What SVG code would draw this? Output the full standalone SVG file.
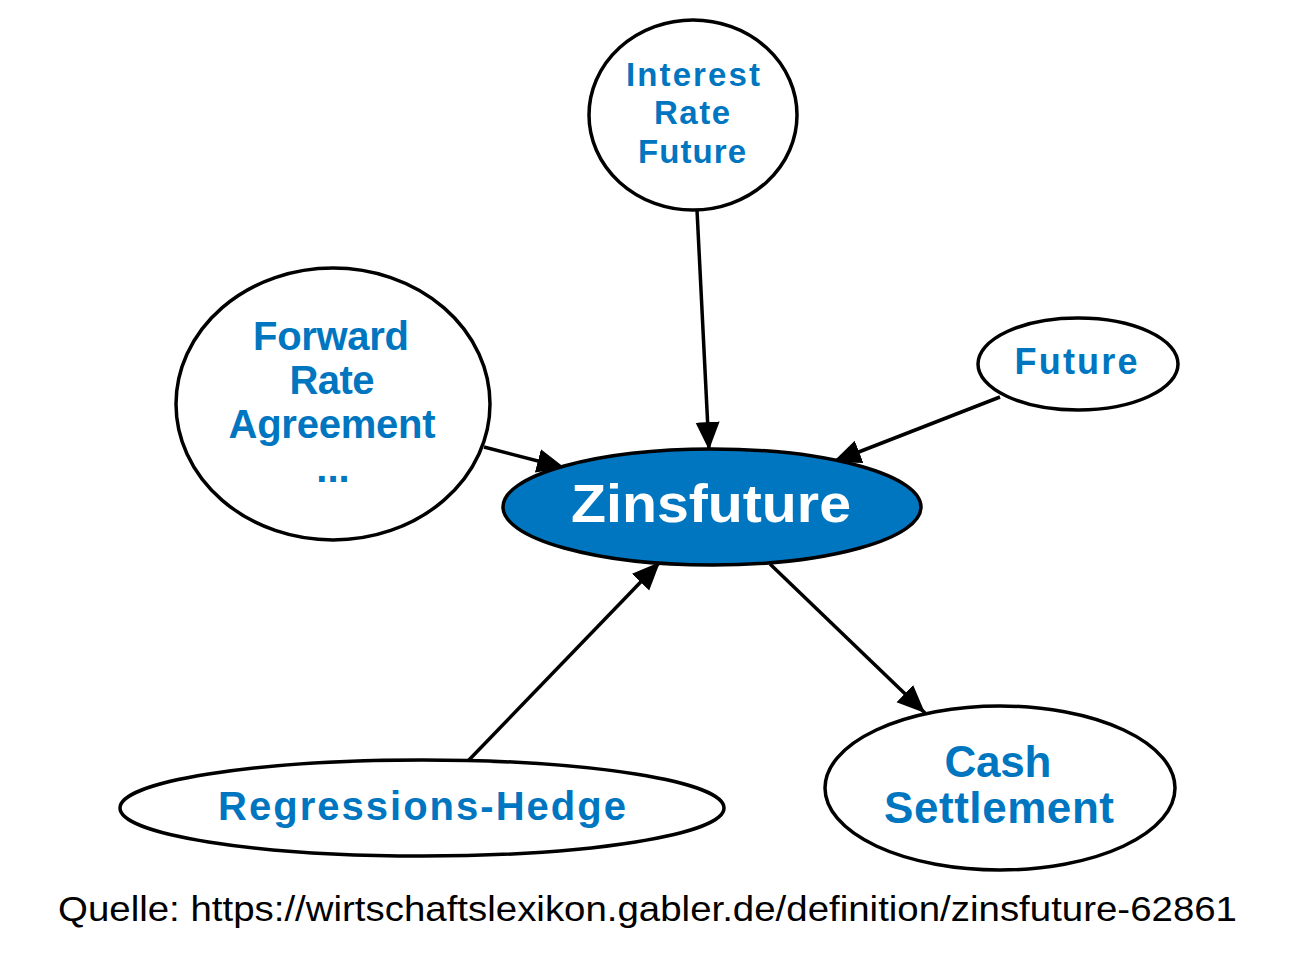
<svg xmlns="http://www.w3.org/2000/svg" width="1300" height="972" viewBox="0 0 1300 972">
<style>
.n{fill:#fff;stroke:#000;stroke-width:3.5}
.c{fill:#0076c0;stroke:#000;stroke-width:3.5}
.t{font-family:"Liberation Sans",Arial,sans-serif;font-weight:bold;fill:#0076c0;text-anchor:middle}
.e{stroke:#000;stroke-width:3.5;fill:none;marker-end:url(#ah)}
</style>
<defs>
<marker id="ah" markerUnits="userSpaceOnUse" markerWidth="30" markerHeight="26" refX="28" refY="12" orient="auto">
<path d="M0,0 L28,12 L0,24 z" fill="#000"/>
</marker>
</defs>
<rect width="1300" height="972" fill="#fff"/>
<g id="edges">
<path class="e" d="M697,210 L709,450"/>
<path class="e" d="M1000,397 L833,462"/>
<path class="e" d="M484,447 L565,468"/>
<path class="e" d="M467,762 L660,562"/>
<path class="e" d="M770,564 L925,713"/>
</g>
<g id="zinsfuture">
<ellipse class="c" cx="712" cy="507" rx="209" ry="58"/>
<text class="t" x="711" y="522" font-size="54" style="fill:#fff" textLength="280" lengthAdjust="spacingAndGlyphs">Zinsfuture</text>
</g>
<g id="interest">
<ellipse class="n" cx="693" cy="115" rx="104" ry="95"/>
<text class="t" font-size="33"><tspan x="693" y="86" textLength="134">Interest</tspan><tspan x="692" y="124" textLength="76">Rate</tspan><tspan x="692" y="163" textLength="108">Future</tspan></text>
</g>
<g id="forward">
<ellipse class="n" cx="333" cy="404" rx="157" ry="136"/>
<text class="t" font-size="40"><tspan x="331" y="350" textLength="156">Forward</tspan><tspan x="332" y="394" textLength="85">Rate</tspan><tspan x="332" y="438" textLength="207">Agreement</tspan><tspan x="333" y="482">...</tspan></text>
</g>
<g id="future">
<ellipse class="n" cx="1078" cy="364" rx="100" ry="46"/>
<text class="t" font-size="36" x="1076" y="374" textLength="123">Future</text>
</g>
<g id="regressions">
<ellipse class="n" cx="422" cy="808" rx="302" ry="48"/>
<text class="t" font-size="40" x="422" y="820" textLength="408">Regressions-Hedge</text>
</g>
<g id="cash">
<ellipse class="n" cx="1000" cy="788" rx="175" ry="82"/>
<text class="t" font-size="44"><tspan x="998" y="777" textLength="107">Cash</tspan><tspan x="999" y="823" textLength="230">Settlement</tspan></text>
</g>
<text x="58" y="921" font-family="'Liberation Sans',Arial,sans-serif" font-size="35" fill="#000" textLength="1179" lengthAdjust="spacingAndGlyphs">Quelle: https://wirtschaftslexikon.gabler.de/definition/zinsfuture-62861</text>
</svg>
